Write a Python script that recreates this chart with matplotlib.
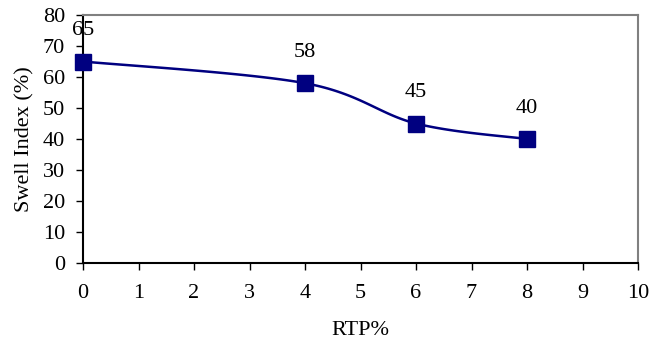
import numpy as np
import matplotlib
matplotlib.use("Agg")
import matplotlib.pyplot as plt

rtp = [0, 4, 6, 8]
swell = [65, 58, 45, 40]
x_ticks = list(range(0, 11))
y_ticks = list(range(0, 81, 10))

plt.rcParams['font.family'] = ['Liberation Serif', 'DejaVu Serif']

# Excel-style smoothed line (Catmull-Rom through the points)
def smooth(xs, ys, n=40):
    xs = np.asarray(xs, float); ys = np.asarray(ys, float)
    px = np.concatenate([[xs[0]], xs, [xs[-1]]])
    py = np.concatenate([[ys[0]], ys, [ys[-1]]])
    ox, oy = [], []
    for i in range(1, len(px) - 2):
        t = np.linspace(0, 1, n)
        p0, p1, p2, p3 = [np.array([px[j], py[j]]) for j in range(i - 1, i + 3)]
        m1 = (p2 - p0) / 6.0
        m2 = (p3 - p1) / 6.0
        c1 = p1 + m1; c2 = p2 - m2
        pts = ((1 - t) ** 3)[:, None] * p1 + (3 * (1 - t) ** 2 * t)[:, None] * c1 \
            + (3 * (1 - t) * t ** 2)[:, None] * c2 + (t ** 3)[:, None] * p2
        ox.extend(pts[:, 0]); oy.extend(pts[:, 1])
    return ox, oy

fig = plt.figure(figsize=(6.53, 3.42), dpi=100)
ax = fig.add_axes([83 / 653, 1 - 263 / 342, (638 - 83) / 653, (263 - 15) / 342])

sx, sy = smooth(rtp, swell)
ax.plot(sx, sy, color='#000080', lw=1.8, clip_on=False, zorder=3)
ax.plot(rtp, swell, ls='none', marker='s', ms=11, color='#000080', clip_on=False, zorder=4)

for x, y in zip(rtp, swell):
    ax.annotate(str(y), (x, y), xytext=(0, 22), textcoords='offset points',
                ha='center', va='center', fontsize=16)

ax.set_xlim(0, 10)
ax.set_ylim(0, 80)
ax.set_xticks(x_ticks)
ax.set_yticks(y_ticks)
ax.tick_params(labelsize=16, direction='out', length=5, width=1, color='black')
ax.tick_params(axis='x', pad=10)
ax.tick_params(axis='y', pad=8)
ax.set_xlabel('RTP%', fontsize=16, labelpad=13)
ax.set_ylabel('Swell Index (%)', fontsize=16, labelpad=6)

for s in ['left', 'bottom']:
    ax.spines[s].set_color('black')
for s in ['top', 'right']:
    ax.spines[s].set_color('#808080')
for s in ax.spines.values():
    s.set_linewidth(1.5)

fig.savefig('out.png', dpi=100)
